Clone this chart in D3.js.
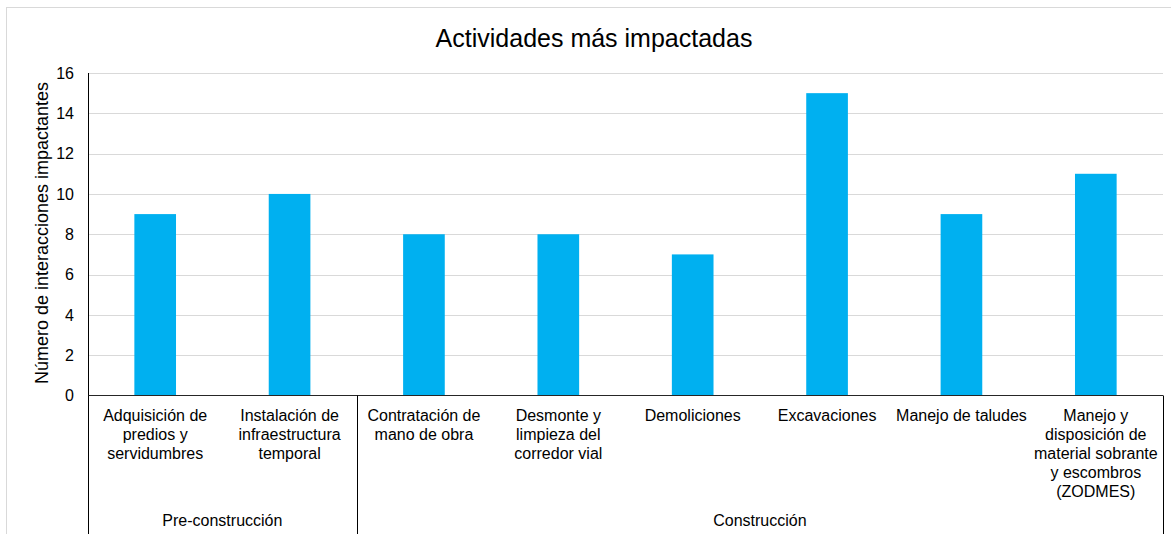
<!DOCTYPE html>
<html>
<head>
<meta charset="utf-8">
<script src="https://cdn.jsdelivr.net/npm/d3@7"></script>
<style>
  html, body { margin: 0; padding: 0; background: #fff; }
  svg { display: block; font-family: "Liberation Sans", Arial, sans-serif; }
</style>
</head>
<body>
<svg id="chart" width="1171" height="534"></svg>
<script>
// Activities (label lines) and their number of impacting interactions
const activities = [
  ["Adquisición de", "predios y", "servidumbres"],
  ["Instalación de", "infraestructura", "temporal"],
  ["Contratación de", "mano de obra"],
  ["Desmonte y", "limpieza del", "corredor vial"],
  ["Demoliciones"],
  ["Excavaciones"],
  ["Manejo de taludes"],
  ["Manejo y", "disposición de", "material sobrante", "y escombros", "(ZODMES)"]
];
const interactions = [9, 10, 8, 8, 7, 15, 9, 11];

// Project phases: name and how many activities each one groups
const phases = ["Pre-construcción", "Construcción"];
const phaseSizes = [2, 6];

const yTicks = [0, 2, 4, 6, 8, 10, 12, 14, 16];
const title = "Actividades más impactadas";
const yTitle = "Número de interacciones impactantes";

const svg = d3.select("#chart");
const W = 1171, H = 534;
const plot = { left: 88, right: 1163, top: 73, bottom: 395.5 };

// outer chart frame
svg.append("rect")
  .attr("x", 6.5).attr("y", 7.5)
  .attr("width", W + 20).attr("height", H + 20)
  .attr("fill", "#fff").attr("stroke", "#d9d9d9").attr("stroke-width", 1);

const idx = d3.range(interactions.length);
const x = d3.scaleBand().domain(idx).range([plot.left, plot.right]).padding(0);
const y = d3.scaleLinear().domain([0, 16]).range([plot.bottom, plot.top]);

// gridlines
svg.append("g")
  .selectAll("line").data(yTicks.filter(t => t > 0)).join("line")
  .attr("x1", plot.left).attr("x2", plot.right)
  .attr("y1", d => Math.round(y(d)) + 0.5).attr("y2", d => Math.round(y(d)) + 0.5)
  .attr("stroke", "#d9d9d9").attr("stroke-width", 1);

// bars
const barW = x.bandwidth() * 0.31;
svg.append("g")
  .selectAll("rect").data(idx).join("rect")
  .attr("x", i => x(i) + (x.bandwidth() - barW) / 2)
  .attr("y", i => y(interactions[i]))
  .attr("width", barW)
  .attr("height", i => y(0) - y(interactions[i]))
  .attr("fill", "#00b0f0");

// y axis
const yAxis = d3.axisLeft(y).tickValues(yTicks).tickSize(0).tickPadding(14);
const gy = svg.append("g").attr("transform", `translate(${plot.left},0)`).call(yAxis);
gy.select(".domain").remove();
gy.selectAll("text").attr("font-size", 16).attr("fill", "#000")
  .attr("font-family", "Liberation Sans, Arial, sans-serif");

svg.append("line")
  .attr("x1", plot.left + 0.5).attr("x2", plot.left + 0.5)
  .attr("y1", plot.top).attr("y2", plot.bottom)
  .attr("stroke", "#000").attr("stroke-width", 1);

// x axis baseline
svg.append("line")
  .attr("x1", plot.left).attr("x2", plot.right)
  .attr("y1", plot.bottom).attr("y2", plot.bottom)
  .attr("stroke", "#262626").attr("stroke-width", 1);

// category labels
const cat = svg.append("g").selectAll("text").data(idx).join("text")
  .attr("text-anchor", "middle")
  .attr("font-size", 16).attr("fill", "#000")
  .attr("x", i => x(i) + x.bandwidth() / 2)
  .attr("y", 421);
cat.each(function(i) {
  d3.select(this).selectAll("tspan").data(activities[i]).join("tspan")
    .attr("x", x(i) + x.bandwidth() / 2)
    .attr("dy", (d, k) => k === 0 ? 0 : 19)
    .text(d => d);
});

// phase dividers and labels
let start = 0;
const bounds = [plot.left];
phaseSizes.forEach(n => { start += n; bounds.push(start < idx.length ? x(start) : plot.right); });
svg.append("g").selectAll("line").data(bounds).join("line")
  .attr("x1", d => Math.round(d) + 0.5).attr("x2", d => Math.round(d) + 0.5)
  .attr("y1", plot.bottom).attr("y2", H)
  .attr("stroke", "#000").attr("stroke-width", 1);

svg.append("g").selectAll("text").data(phases).join("text")
  .attr("text-anchor", "middle")
  .attr("font-size", 16).attr("fill", "#000")
  .attr("x", (d, k) => (bounds[k] + bounds[k + 1]) / 2)
  .attr("y", 526)
  .text(d => d);

// titles
svg.append("text")
  .attr("x", 594).attr("y", 47)
  .attr("text-anchor", "middle")
  .attr("font-size", 25).attr("fill", "#000")
  .text(title);

svg.append("text")
  .attr("transform", "translate(48,233) rotate(-90)")
  .attr("text-anchor", "middle")
  .attr("font-size", 18).attr("fill", "#000")
  .text(yTitle);
</script>
</body>
</html>
